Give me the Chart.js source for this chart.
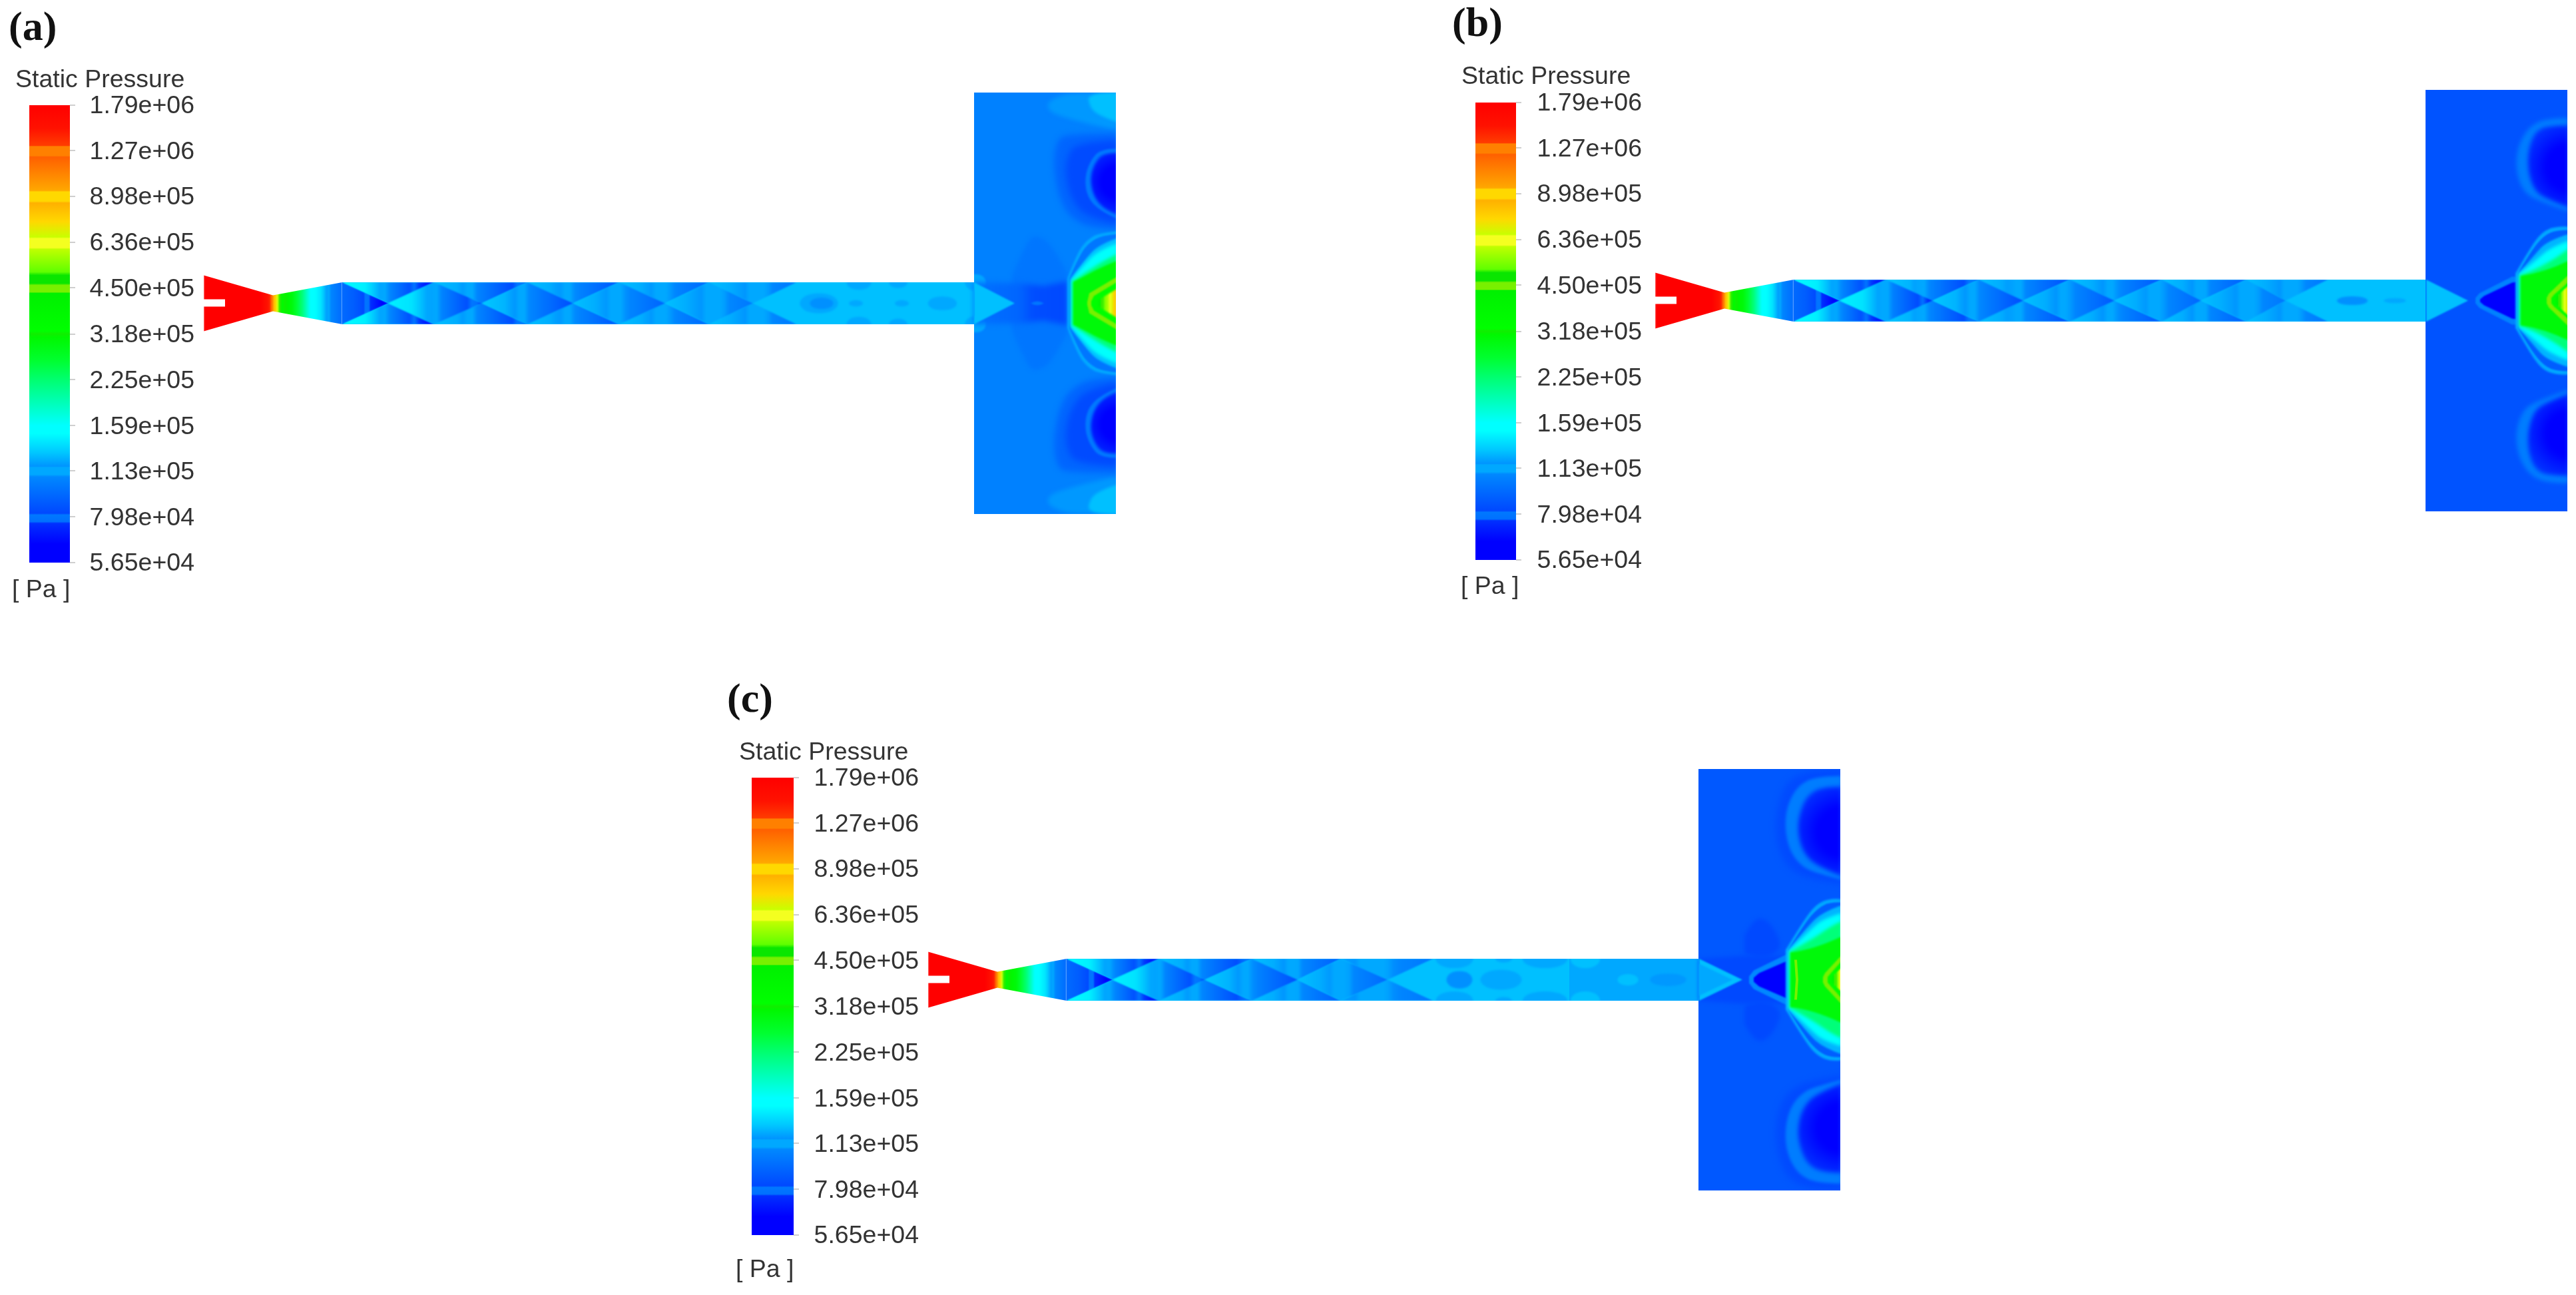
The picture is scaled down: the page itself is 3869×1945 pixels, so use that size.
<!DOCTYPE html>
<html><head><meta charset="utf-8">
<style>
html,body{margin:0;padding:0;background:#fff;width:3869px;height:1945px;overflow:hidden}
canvas{position:absolute;display:block}
.t{position:absolute;line-height:1;white-space:pre;color:#333;font-family:"Liberation Sans",Arial,sans-serif;font-size:37.5px;filter:blur(.6px)}
.p{position:absolute;line-height:1;white-space:pre;color:#111;font-family:"Liberation Serif",serif;font-weight:bold;font-size:62px;filter:blur(.5px)}
</style>
<script src="https://cdn.jsdelivr.net/npm/chart.js@4"></script>
</head><body>
<script>
// ---------- legend values (Pa) ----------
const tickValues=[1.79e6,1.27e6,8.98e5,6.36e5,4.50e5,3.18e5,2.25e5,1.59e5,1.13e5,7.98e4,5.65e4];
const tickLabels=['1.79e+06','1.27e+06','8.98e+05','6.36e+05','4.50e+05','3.18e+05','2.25e+05','1.59e+05','1.13e+05','7.98e+04','5.65e+04'];
const legendTitle='Static Pressure', legendUnit='[ Pa ]';
const colourStops=[
[1.79e6,'#ff0000'],[1.50e6,'#ff1200'],[1.32e6,'#ff3c00'],[1.31e6,'#ff8000'],[1.223e6,'#ff8000'],[1.21e6,'#ff6000'],
[9.39e5,'#ffa800'],[9.3e5,'#ffd800'],[8.67e5,'#ffd800'],[8.55e5,'#ffb000'],[7.43e5,'#ffd800'],[6.61e5,'#c8ff00'],
[6.54e5,'#f4ff20'],[6.10e5,'#f4ff20'],[6.03e5,'#c0ff00'],[5.08e5,'#60ff00'],[4.95e5,'#0ae600'],[4.66e5,'#0ae600'],
[4.59e5,'#78f000'],[4.36e5,'#78f000'],[4.33e5,'#00f000'],[3.25e5,'#00ff00'],[3.18e5,'#10ee00'],[3.10e5,'#00f800'],
[2.60e5,'#00ff30'],[2.25e5,'#00ff70'],[1.59e5,'#00ffff'],[1.50e5,'#00ffff'],[1.30e5,'#00c8ff'],[1.17e5,'#0094ff'],
[1.16e5,'#00a8ff'],[1.10e5,'#00a8ff'],[1.08e5,'#0088ff'],[8.2e4,'#0048ff'],[8.1e4,'#0078ff'],[7.7e4,'#0070ff'],
[7.6e4,'#0030ff'],[6.5e4,'#0000ff'],[5.65e4,'#0000ff']];

// ---------- geometry of the flow domain (shared) ----------
const domainOutline=[[0,-42],[104,-12],[208,-31.5],[1157,-31.5],[1157,-316.5],[1370,-316.5],[1370,316.5],[1157,316.5],[1157,31.5],[208,31.5],[104,12],[0,42],[0,6],[32,6],[32,-5],[0,-5]];
const nozzleRect=[[0,-50],[208,-50],[208,50],[0,50]];
const nozzlePressure=[[85,1.79e6],[100,1.4e6],[106,9e5],[110,6.5e5],[114,4.8e5],[120,3.2e5],[132,3e5],[148,2.2e5],[160,1.59e5],[176,1.4e5],[190,1.08e5],[208,9.5e4]];
const firstFanPressure=[[208,9.5e4],[225,9e4],[240,8.3e4],[277,6e4]];

// ---------- panel (a) ----------
const aWallNodes=[208,346,486,624,759,890];
const aCentreNodes=[277,418,555,693,825];
const aWallP=[[1.5e5,6.4e4],[1.28e5,7.5e4],[1.28e5,8.6e4],[1.28e5,9.3e4],[1.28e5,1.0e5]];
const aCentreP=[[1.45e5,7.4e4],[1.3e5,8.3e4],[1.28e5,9.2e4],[1.28e5,1.0e5]];
const aOvals=[[893,955,0,16,1.13e5],[909,947,0,9,1.085e5],[964,1004,31.5,12,1.12e5],[1028,1058,31.5,9,1.12e5],[968,991,0,5,1.12e5],[1037,1060,0,5,1.12e5],[1086,1133,0,11,1.12e5],[1142,1176,31.5,13,1.12e5]];
const aBoxP=1.05e5;
const aBoxLayers=[
 {mirror:'close',p:1.0e5,smooth:1,blur:3,pts:[[1214,-41],[1237,-96],[1251,-102],[1274,-89],[1297,-45]]},
 {mirror:'pair',p:1.09e5,smooth:1,blur:3,pts:[[1372,-316],[1307,-317],[1281,-310],[1266,-300],[1271,-287],[1294,-279],[1327,-270],[1372,-260]]},
 {mirror:'pair',p:1.28e5,smooth:1,blur:2,pts:[[1372,-317],[1327,-317],[1331,-293],[1347,-281],[1372,-272]]},
 {mirror:'pair',p:9.3e4,smooth:1,blur:5,pts:[[1372,-255],[1294,-255],[1281,-243],[1276,-209],[1284,-159],[1301,-129],[1334,-112],[1372,-112]]},
 {mirror:'pair',p:8.3e4,smooth:1,blur:5,pts:[[1372,-245],[1311,-241],[1297,-222],[1294,-192],[1304,-154],[1327,-129],[1372,-119]]},
 {mirror:'pair',p:1.02e5,smooth:1,blur:1.5,pts:[[1372,-232],[1347,-232],[1331,-213],[1323,-188],[1327,-159],[1347,-138],[1372,-127]]},
 {mirror:'pair',radial:[1372,-182,52,[[0,5.8e4],[.45,6.4e4],[1,7.6e4]]],smooth:1,blur:2,pts:[[1372,-226],[1351,-226],[1337,-209],[1331,-186],[1337,-159],[1354,-140],[1372,-133]]},
 {mirror:'close',grad:[[1157,9.8e4],[1225,9.3e4],[1245,8.4e4],[1297,8.2e4]],blur:4,pts:[[1157,-31.5],[1227,-30],[1261,-26],[1297,-33]]},
 {mirror:'close',p:1.0e5,smooth:1,blur:1,pts:[[1242,0],[1247,-3],[1257,-3],[1262,0]]},
 {mirror:'close',p:1.28e5,blur:1,pts:[[1157,-31.5],[1218,0]]},
 {mirror:'close',p:1.13e5,smooth:1,blur:1.5,pts:[[1297,-37],[1311,-74],[1327,-96],[1347,-106],[1372,-108]]},
 {mirror:'close',p:1.0e5,smooth:1,blur:1,pts:[[1300,-37],[1316,-74],[1331,-92],[1350,-102],[1372,-104]]},
 {mirror:'close',p:1.28e5,smooth:1,blur:1.5,pts:[[1302,-36],[1325,-68],[1345,-88],[1372,-98]]},
 {mirror:'close',p:1.6e5,smooth:1,blur:2.5,pts:[[1303,-35],[1322,-58],[1345,-80],[1372,-90]]},
 {mirror:'close',p:2.2e5,smooth:1,blur:2.5,pts:[[1304,-33],[1330,-50],[1352,-64],[1372,-74]]},
 {mirror:'close',p:3e5,smooth:1,blur:1.5,pts:[[1306,-32],[1327,-43],[1350,-55],[1372,-64]]},
 {mirror:'close',p:4.4e5,blur:.8,pts:[[1327,-2],[1330,-15],[1372,-40]]},
 {mirror:'close',p:3.3e5,blur:.8,pts:[[1333,-3],[1337,-11],[1372,-32]]},
 {mirror:'close',grad:[[1342,3.3e5],[1352,5.2e5],[1362,6.3e5],[1369,8e5]],blur:1.5,pts:[[1342,-3],[1347,-7],[1372,-22]]}
];

// ---------- panel (b) ----------
const bWallNodes=[208,347,486,623,761,888,1010];
const bCentreNodes=[277,417,553,690,820,947];
const bWallP=[[1.5e5,6.4e4],[1.3e5,7.5e4],[1.28e5,8.4e4],[1.28e5,8.7e4],[1.28e5,9e4],[1.28e5,1.0e5]];
const bCentreP=[[1.45e5,7.2e4],[1.3e5,8.3e4],[1.28e5,8.8e4],[1.28e5,9.3e4],[1.28e5,1.0e5]];
const bOvals=[[1022,1072,0,7,1.085e5],[1093,1129,0,4,1.12e5]];
const bBoxP=8.6e4;
const bBoxLayers=[
 {mirror:'pair',p:1.03e5,smooth:1,blur:3,pts:[[1372,-274],[1341,-274],[1314,-263],[1296,-234],[1292,-197],[1304,-162],[1331,-148],[1372,-134]]},
 {mirror:'pair',radial:[1372,-200,66,[[0,5.8e4],[.5,6.4e4],[1,7.6e4]]],smooth:1,blur:3,pts:[[1372,-263],[1341,-263],[1321,-253],[1311,-226],[1311,-193],[1321,-164],[1341,-152],[1372,-140]]},
 {mirror:'close',p:1.28e5,blur:1,pts:[[1158,-31.5],[1221,0]]},
 {mirror:'close',p:1.05e5,blur:1.2,pts:[[1232,-4],[1238,-11],[1287,-36],[1294,-36]]},
 {mirror:'close',p:6e4,blur:1.2,pts:[[1239,-2],[1245,-7],[1287,-27],[1294,-28]]},
 {mirror:'close',p:1.13e5,smooth:1,blur:1.5,pts:[[1292,-41],[1311,-74],[1331,-103],[1354,-112],[1372,-111]]},
 {mirror:'close',p:9e4,smooth:1,blur:1,pts:[[1296,-41],[1315,-74],[1335,-98],[1354,-106],[1372,-106]]},
 {mirror:'close',p:1.25e5,smooth:1,blur:1.5,pts:[[1297,-41],[1320,-68],[1340,-90],[1372,-100]]},
 {mirror:'close',p:1.6e5,smooth:1,blur:2.5,pts:[[1297,-40],[1322,-60],[1345,-80],[1372,-90]]},
 {mirror:'close',p:2.2e5,smooth:1,blur:2.5,pts:[[1298,-38],[1335,-50],[1372,-78]]},
 {mirror:'close',p:3e5,smooth:1,blur:1.5,pts:[[1300,-37],[1335,-42],[1372,-60]]},
 {mirror:'close',p:4.4e5,blur:.8,pts:[[1339,-4],[1342,-10],[1372,-39]]},
 {mirror:'close',p:3.3e5,blur:.8,pts:[[1346,-4],[1350,-9],[1372,-28]]},
 {mirror:'close',grad:[[1351,3.3e5],[1362,5.5e5],[1369,7e5]],blur:1,pts:[[1351,-3],[1358,-10],[1372,-23]]}
];

// ---------- panel (c) ----------
const cWallNodes=[208,347,486,620,758];
const cCentreNodes=[277,416,555,690];
const cWallP=[[1.5e5,6.4e4],[1.28e5,7.6e4],[1.28e5,9e4],[1.2e5,1.0e5]];
const cCentreP=[[1.45e5,7.4e4],[1.3e5,8.4e4],[1.28e5,9.4e4]];
const cDuctRear=[[963,-31.5],[1158,-31.5],[1158,31.5],[963,31.5]];
const cOvals=[[760,821,31.5,15,1.13e5],[777,819,0,14,1.085e5],[827,894,0,16,1.13e5],[851,878,31.5,6,1.13e5],[890,963,31.5,15,1.13e5]];
const cRearOvals=[[963,1011,31.5,15,1.28e5],[1034,1068,0,9,1.28e5],[1082,1141,0,10,1.18e5]];
const cBoxP=8.8e4;
const cBoxLayers=[
 {mirror:'pair',p:8.3e4,smooth:1,blur:5,pts:[[1372,-317],[1330,-317],[1290,-300],[1275,-260],[1272,-220],[1282,-180],[1305,-158],[1340,-148],[1372,-143]]},
 {mirror:'pair',p:1.03e5,smooth:1,blur:2,pts:[[1372,-306],[1336,-306],[1306,-292],[1289,-259],[1287,-222],[1296,-189],[1316,-167],[1343,-158],[1372,-150]]},
 {mirror:'pair',radial:[1372,-222,72,[[0,5.8e4],[.5,6.4e4],[1,7.6e4]]],smooth:1,blur:3,pts:[[1372,-290],[1343,-290],[1319,-276],[1308,-247],[1306,-222],[1313,-193],[1333,-171],[1372,-156]]},
 {mirror:'pair',p:8.25e4,smooth:1,blur:3,pts:[[1226,-66],[1239,-90],[1256,-93],[1273,-74],[1283,-45],[1250,-30],[1226,-40]]},
 {mirror:'close',p:8.25e4,blur:3,pts:[[1158,-31.5],[1223,-36],[1290,-36]]},
 {mirror:'close',p:1.28e5,blur:1,pts:[[1158,-31.5],[1223,0]]},
 {mirror:'close',p:1.14e5,blur:1,pts:[[1158,-24],[1208,0]]},
 {mirror:'close',p:1.08e5,blur:1.2,pts:[[1233,-5],[1240,-14],[1285,-36],[1291,-38]]},
 {mirror:'close',p:6e4,blur:1.2,pts:[[1240,-3],[1248,-10],[1285,-26],[1291,-28]]},
 {mirror:'close',p:1.13e5,smooth:1,blur:1.5,pts:[[1288,-45],[1313,-86],[1333,-113],[1356,-123],[1372,-121]]},
 {mirror:'close',p:9e4,smooth:1,blur:1,pts:[[1292,-45],[1317,-86],[1337,-108],[1356,-117],[1372,-116]]},
 {mirror:'close',p:1.25e5,smooth:1,blur:1.5,pts:[[1292,-44],[1322,-82],[1345,-102],[1372,-112]]},
 {mirror:'close',p:1.6e5,smooth:1,blur:2.5,pts:[[1292,-43],[1325,-75],[1345,-92],[1372,-100]]},
 {mirror:'close',p:2.2e5,smooth:1,blur:2.5,pts:[[1294,-42],[1330,-62],[1355,-80],[1372,-88]]},
 {mirror:'close',p:3e5,smooth:1,blur:1.5,pts:[[1295,-41],[1330,-45],[1372,-65]]},
 {mirror:'close',p:4.4e5,blur:.6,pts:[[1303,0],[1301,-30],[1305,-30],[1307,0]]},
 {mirror:'close',p:3e5,blur:0,pts:[[1307,0],[1307,-28],[1310,-28],[1310,0]]},
 {mirror:'close',p:4.4e5,blur:.8,pts:[[1344,-4],[1347,-10],[1372,-37]]},
 {mirror:'close',p:3.3e5,blur:.8,pts:[[1351,-4],[1355,-9],[1372,-28]]},
 {mirror:'close',grad:[[1356,3.3e5],[1365,5.2e5],[1369,6.2e5]],blur:1,pts:[[1357,-3],[1361,-8],[1372,-18]]}
];

const panels=[
 {name:'(a)',labelX:13,labelBase:60,titleX:23,titleBase:132,unitX:18,unitBase:898,barX:44,barTop:158,barW:61,labelRight:292,flowX:306,flowTop:139,
  wall:aWallNodes,centre:aCentreNodes,wallP:aWallP,centreP:aCentreP,ovals:aOvals,rear:null,boxP:aBoxP,box:aBoxLayers},
 {name:'(b)',labelX:2181,labelBase:54,titleX:2195,titleBase:127,unitX:2194,unitBase:893,barX:2216,barTop:154,barW:61,labelRight:2466,flowX:2486,flowTop:135,
  wall:bWallNodes,centre:bCentreNodes,wallP:bWallP,centreP:bCentreP,ovals:bOvals,rear:null,boxP:bBoxP,box:bBoxLayers},
 {name:'(c)',labelX:1092,labelBase:1069,titleX:1110,titleBase:1142,unitX:1105,unitBase:1919,barX:1129,barTop:1168,barW:63,labelRight:1380,flowX:1394,flowTop:1155,
  wall:cWallNodes,centre:cCentreNodes,wallP:cWallP,centreP:cCentreP,ovals:cOvals,rear:{pts:cDuctRear,ovals:cRearOvals},boxP:cBoxP,box:cBoxLayers}
];
const barHeight=687, barPad=32, labelDrop=2;

// ---------- colour map: pressure -> colour ----------
function hexRgb(h){return [1,3,5].map(i=>parseInt(h.substr(i,2),16));}
function colourAt(p){
  if(p>=colourStops[0][0])return colourStops[0][1];
  for(let i=1;i<colourStops.length;i++){
    const [p1,c1]=colourStops[i],[p0,c0]=colourStops[i-1];
    if(p>=p1){
      const f=Math.log(p0/p)/Math.log(p0/p1),a=hexRgb(c0),b=hexRgb(c1);
      return 'rgb('+a.map((v,k)=>Math.round(v+(b[k]-v)*f)).join(',')+')';
    }
  }
  return colourStops[colourStops.length-1][1];
}

// ---------- plugin: fills each dataset's polygon from the points the scales placed ----------
function tracePath(ctx,el,r){
  if(r.closedSmooth){
    const n=el.length,m=(a,b)=>[(a.x+b.x)/2,(a.y+b.y)/2];
    let s=m(el[n-1],el[0]);ctx.moveTo(s[0],s[1]);
    for(let i=0;i<n;i++){const q=m(el[i],el[(i+1)%n]);ctx.quadraticCurveTo(el[i].x,el[i].y,q[0],q[1]);}
    ctx.closePath();return;
  }
  ctx.moveTo(el[0].x,el[0].y);
  const cs=r.smooth?(r.corners||[0,el.length-1]):null;
  if(!cs){for(let i=1;i<el.length;i++)ctx.lineTo(el[i].x,el[i].y);ctx.closePath();return;}
  for(let c=0;c<cs.length-1;c++){
    const a=cs[c],b=cs[c+1];
    if(b-a<2){ctx.lineTo(el[b].x,el[b].y);continue;}
    for(let i=a+1;i<b;i++){
      const end=i===b-1?el[b]:{x:(el[i].x+el[i+1].x)/2,y:(el[i].y+el[i+1].y)/2};
      ctx.quadraticCurveTo(el[i].x,el[i].y,end.x,end.y);
    }
  }
  ctx.closePath();
}
const contourFill={id:'contourFill',afterDatasetsDraw(chart){
  const ctx=chart.ctx,X=chart.scales.x,Y=chart.scales.y;
  ctx.save();
  chart.data.datasets.forEach((d,i)=>{
    const el=chart.getDatasetMeta(i).data,r=d.region;
    if(r.outline){ctx.beginPath();tracePath(ctx,el,{});ctx.clip();return;}
    ctx.filter=r.blur?'blur('+r.blur+'px)':'none';
    if(r.grad){
      const x0=X.getPixelForValue(r.grad[0][0]),x1=X.getPixelForValue(r.grad[r.grad.length-1][0]),g=ctx.createLinearGradient(x0,0,x1,0);
      for(let k=0;k<r.grad.length-1;k++){
        const [u0,p0]=r.grad[k],[u1,p1]=r.grad[k+1];
        for(let s=0;s<=14;s++){
          const f=s/14,x=X.getPixelForValue(u0+(u1-u0)*f);
          g.addColorStop(Math.min(1,Math.max(0,(x-x0)/(x1-x0))),colourAt(p0*Math.pow(p1/p0,f)));
        }
      }
      ctx.fillStyle=g;
    } else if(r.radial){
      const [cu,cv,rad,st]=r.radial,cx=X.getPixelForValue(cu),cy=Y.getPixelForValue(cv),rp=Math.abs(X.getPixelForValue(cu+rad)-cx);
      const g=ctx.createRadialGradient(cx,cy,0,cx,cy,rp);
      st.forEach(([o,p])=>g.addColorStop(o,colourAt(p)));
      ctx.fillStyle=g;
    } else ctx.fillStyle=colourAt(r.p);
    ctx.beginPath();tracePath(ctx,el,r);ctx.fill();
  });
  ctx.restore();
}};
const dropLabels={id:'dropLabels',beforeDraw(chart){
  const y=chart.scales.y;
  y.getLabelItems(chart.chartArea).forEach(it=>{
    if(!it.dropped){it.options.translation=[it.options.translation[0],it.options.translation[1]+labelDrop];it.dropped=true;}
  });
}};

// ---------- build flow layers ----------
const ovalTemplate=[[0,0],[.15,-.75],[.5,-1],[.85,-.75],[1,0],[.85,.75],[.5,1],[.15,.75]];
function ovalRegions(list){
  const out=[];
  list.forEach(([u0,u1,vc,h,p])=>{
    (vc?[-vc,vc]:[0]).forEach(c=>out.push({p,blur:1.5,closedSmooth:1,pts:ovalTemplate.map(([a,b])=>[u0+(u1-u0)*a,c+h*b])}));
  });
  return out;
}
function mirrorLayer(layer){
  const {mirror,...rest}=layer;
  if(mirror==='pair'){
    const other={...rest,pts:rest.pts.map(([x,y])=>[x,-y])};
    if(rest.radial)other.radial=[rest.radial[0],-rest.radial[1],rest.radial[2],rest.radial[3]];
    return [rest,other];
  }
  if(mirror==='close'){
    const n=rest.pts.length;
    return [{...rest,corners:[0,n-1,n,2*n-1],pts:rest.pts.concat(rest.pts.slice().reverse().map(([x,y])=>[x,-y]))}];
  }
  return [layer];
}
function cellGrad(u0,u1,ps){return [[u0,ps[0]],[u0+(u1-u0)*.25,ps[0]*.96],[u1,ps[1]]];}
function regionsFor(P){
  const R=[];
  R.push({outline:1,pts:domainOutline});
  R.push({grad:nozzlePressure,blur:1,pts:nozzleRect});
  R.push({p:1.28e5,pts:[[208,-31.5],[1158,-31.5],[1158,31.5],[208,31.5]]});
  R.push({p:P.boxP,pts:[[1157,-317],[1372,-317],[1372,317],[1157,317]]});
  if(P.rear){R.push({p:1.13e5,pts:P.rear.pts});}
  R.push({grad:firstFanPressure,blur:.6,pts:[[208,-31.5],[277,0],[208,31.5]]});
  P.wallP.forEach((ps,i)=>{
    const a=P.wall[i],b=P.wall[i+1],c=P.centre[i];
    [-31.5,31.5].forEach(v=>R.push({grad:cellGrad(a,b,ps),blur:.8,pts:[[a,v],[c,0],[b,v]]}));
  });
  P.centreP.forEach((ps,i)=>{
    const a=P.centre[i],b=P.centre[i+1],w=P.wall[i+1];
    R.push({grad:cellGrad(a,b,ps),blur:.8,pts:[[a,0],[w,-31.5],[b,0],[w,31.5]]});
  });
  ovalRegions(P.ovals).forEach(o=>R.push(o));
  if(P.rear)ovalRegions(P.rear.ovals).forEach(o=>R.push(o));
  P.box.forEach(l=>mirrorLayer(l).forEach(o=>R.push(o)));
  return R;
}

function makeCanvas(left,top,w,h){
  const c=document.createElement('canvas');
  c.width=w;c.height=h;c.style.left=left+'px';c.style.top=top+'px';c.style.width=w+'px';c.style.height=h+'px';
  c.style.filter='blur(.7px)';
  document.body.appendChild(c);return c;
}
function text(cls,str,x,base,size){
  const d=document.createElement('div');d.className=cls;d.textContent=str;
  d.style.left=x+'px';d.style.top=(base-size*.8465)+'px';document.body.appendChild(d);
}

panels.forEach(P=>{
  text('p',P.name,P.labelX,P.labelBase,62);
  text('t',legendTitle,P.titleX,P.titleBase,37.5);
  text('t',legendUnit,P.unitX,P.unitBase,37.5);

  // colour bar: a floating bar on a logarithmic pressure axis
  const axisW=P.labelRight-P.barX-P.barW;
  new Chart(makeCanvas(P.barX,P.barTop-barPad,P.barW+axisW,barHeight+barPad*2),{
    type:'bar',
    data:{labels:[legendTitle],datasets:[{
      data:[[tickValues[tickValues.length-1],tickValues[0]]],
      barPercentage:1,categoryPercentage:1,borderWidth:0,inflateAmount:0,
      backgroundColor(ctx){
        const ch=ctx.chart,y=ch.scales.y,a=ch.chartArea;
        if(!a||!y)return '#00ff00';
        const g=ch.ctx.createLinearGradient(0,a.top,0,a.bottom);
        colourStops.forEach(([p,c])=>g.addColorStop(Math.min(1,Math.max(0,(y.getPixelForValue(p)-a.top)/(a.bottom-a.top))),c));
        return g;
      }
    }]},
    options:{
      responsive:false,animation:false,devicePixelRatio:1,
      layout:{padding:{top:barPad,bottom:barPad,left:0,right:0}},
      plugins:{legend:{display:false},tooltip:{enabled:false},title:{display:false}},
      scales:{
        x:{display:false},
        y:{type:'logarithmic',position:'right',min:tickValues[tickValues.length-1],max:tickValues[0],
          afterBuildTicks(s){s.ticks=tickValues.map(v=>({value:v}));},
          afterFit(s){s.width=axisW;},
          border:{display:false},
          grid:{drawOnChartArea:false,drawTicks:true,tickLength:8,color:'#cfcfcf',lineWidth:2},
          ticks:{autoSkip:false,maxRotation:0,crossAlign:'far',padding:0,color:'#333',
            font:{family:'"Liberation Sans",Arial,sans-serif',size:37.5},
            callback(v){return tickLabels[tickValues.indexOf(v)];}}
        }
      }
    },
    plugins:[dropLabels]
  });

  // flow field
  const regs=regionsFor(P);
  new Chart(makeCanvas(P.flowX,P.flowTop,1370,633),{
    type:'scatter',
    data:{datasets:regs.map(r=>({data:r.pts.map(([x,y])=>({x,y})),showLine:false,pointRadius:0,pointHoverRadius:0,region:r}))},
    options:{
      responsive:false,animation:false,devicePixelRatio:1,events:[],
      layout:{padding:0},
      plugins:{legend:{display:false},tooltip:{enabled:false}},
      scales:{
        x:{type:'linear',display:false,min:0,max:1370},
        y:{type:'linear',display:false,min:-316.5,max:316.5}
      }
    },
    plugins:[contourFill]
  });
});
</script>
</body></html>
